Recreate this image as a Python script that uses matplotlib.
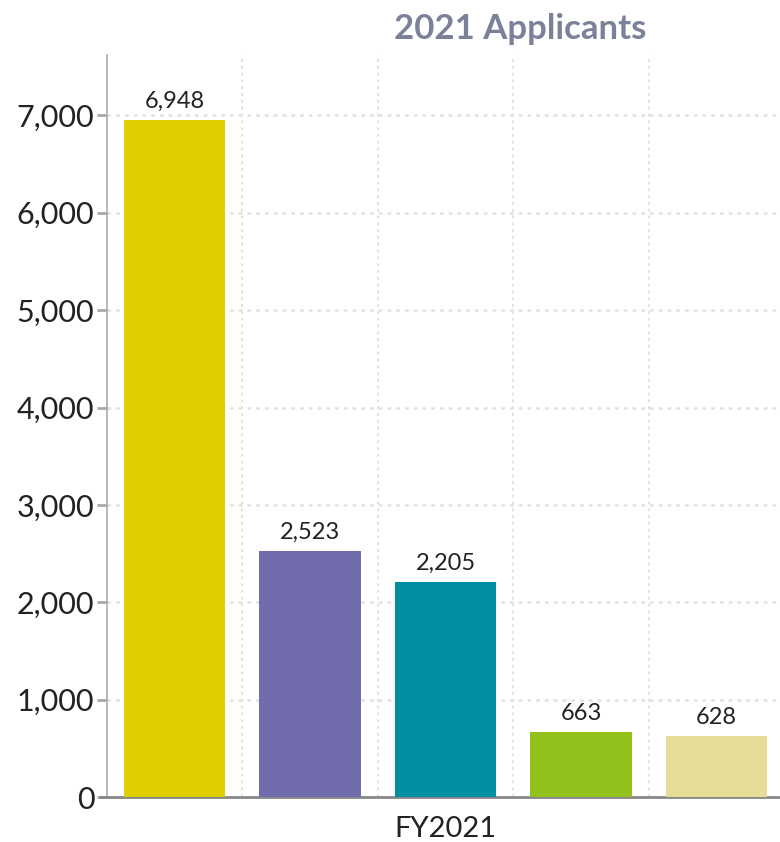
import matplotlib.pyplot as plt
import numpy as np

plt.rcParams['font.family'] = ['Lato', 'DejaVu Sans']

groups = ["A", "B", "C", "D", "E"]
applicants = [6948, 2523, 2205, 663, 628]
colors = ["#dfcf00", "#716cae", "#008fa1", "#92c11c", "#e6dc97"]
yticks = [0, 1000, 2000, 3000, 4000, 5000, 6000, 7000]

fig = plt.figure(figsize=(7.8, 8.42), dpi=100)
ax = fig.add_axes([0.137, 0.0534, 0.8686, 0.8813])

x = np.arange(len(groups))
bars = ax.bar(x, applicants, width=0.75, color=colors, zorder=3)

for b, v in zip(bars, applicants):
    ax.annotate(f"{v:,}", (b.get_x() + b.get_width() / 2, v),
                xytext=(0, 6), textcoords="offset points",
                ha="center", va="bottom", fontsize=17, color="#222222")

ax.set_xlim(-0.5, 4.5)
ax.set_ylim(0, 7620)
ax.set_yticks(yticks)
ax.set_yticklabels([f"{t:,}" for t in yticks])
ax.tick_params(axis="y", labelsize=22, length=7, width=2, color="#aaaaaa",
               labelcolor="#222222", pad=2)

# vertical grid lines between bars
ax.set_xticks(x[:-1] + 0.5, minor=True)
ax.set_xticks([])
ax.tick_params(axis="x", which="minor", length=0)
ax.grid(axis="x", which="minor", color="#e2e2e2", linestyle=(0, (1.5, 2)), linewidth=1.4, zorder=0)
ax.grid(axis="y", color="#e2e2e2", linestyle=(0, (1.5, 2)), linewidth=1.8, zorder=0)

for s in ["top", "right"]:
    ax.spines[s].set_visible(False)
ax.spines["left"].set_color("#aaaaaa")
ax.spines["left"].set_linewidth(1.2)
ax.spines["bottom"].set_color("#888888")
ax.spines["bottom"].set_linewidth(2)
ax.spines["bottom"].set_bounds(-0.55, 4.5)

ax.set_xlabel("FY2021", fontsize=21, color="#222222", labelpad=10)
fig.text(0.667, 0.965, "2021 Applicants", ha="center", va="center",
         fontsize=25, fontweight="bold", color="#7a8199")

fig.savefig("out.png", dpi=100)
